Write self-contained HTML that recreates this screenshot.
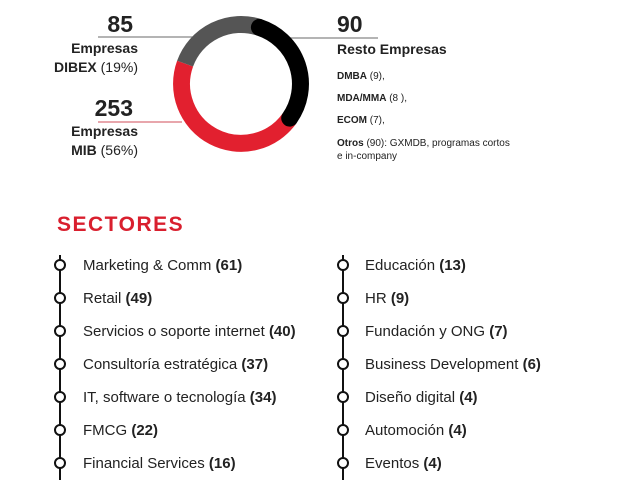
<!DOCTYPE html>
<html><head><meta charset="utf-8"><style>
body{margin:0;background:#fff;}
svg{display:block;font-family:"Liberation Sans",sans-serif;}
</style></head><body>
<svg width="640" height="480" viewBox="0 0 640 480" xmlns="http://www.w3.org/2000/svg">
<rect width="640" height="480" fill="#fff"/>
<line x1="98" y1="37" x2="195" y2="37" stroke="#888" stroke-width="1.2"/>
<line x1="98" y1="122" x2="182" y2="122" stroke="#d9707a" stroke-width="1.2"/>
<line x1="288" y1="38" x2="378" y2="38" stroke="#888" stroke-width="1.2"/>
<g fill="none" stroke-width="17">
<path d="M289.7,118.1 A59.5,59.5 0 0 1 185.1,63.6" stroke="#e2202f"/>
<path d="M185.1,63.6 A59.5,59.5 0 0 1 259.4,27.4" stroke="#555"/>
<path d="M259.4,27.4 A59.5,59.5 0 0 1 289.7,118.1" stroke="#000" stroke-linecap="round"/>
</g>
<g text-anchor="end" fill="#222" font-weight="bold">
<text x="133" y="32" font-size="23">85</text>
<text x="138" y="53" font-size="14">Empresas</text>
<text x="138" y="72" font-size="14">DIBEX <tspan font-weight="normal">(19%)</tspan></text>
<text x="133" y="116" font-size="23">253</text>
<text x="138" y="136" font-size="14">Empresas</text>
<text x="138" y="155" font-size="14">MIB <tspan font-weight="normal">(56%)</tspan></text>
</g>
<g fill="#222">
<text x="337" y="32" font-size="23" font-weight="bold">90</text>
<text x="337" y="54" font-size="14" font-weight="bold">Resto Empresas</text>
<text x="337" y="79" font-size="10"><tspan font-weight="bold">DMBA</tspan> (9),</text>
<text x="337" y="101" font-size="10"><tspan font-weight="bold">MDA/MMA</tspan> (8 ),</text>
<text x="337" y="123" font-size="10"><tspan font-weight="bold">ECOM</tspan> (7),</text>
<text x="337" y="146" font-size="10"><tspan font-weight="bold">Otros</tspan> (90): GXMDB, programas cortos</text>
<text x="337" y="159" font-size="10">e in-company</text>
</g>
<text x="57" y="231" font-size="21" font-weight="bold" fill="#d91f2e" letter-spacing="1.5">SECTORES</text>
<line x1="60" y1="255" x2="60" y2="480" stroke="#111" stroke-width="2"/>
<line x1="343" y1="255" x2="343" y2="480" stroke="#111" stroke-width="2"/>
<g fill="#fff" stroke="#111" stroke-width="2">
<circle cx="60" cy="265" r="5"/><circle cx="60" cy="298" r="5"/><circle cx="60" cy="331" r="5"/><circle cx="60" cy="364" r="5"/><circle cx="60" cy="397" r="5"/><circle cx="60" cy="430" r="5"/><circle cx="60" cy="463" r="5"/>
<circle cx="343" cy="265" r="5"/><circle cx="343" cy="298" r="5"/><circle cx="343" cy="331" r="5"/><circle cx="343" cy="364" r="5"/><circle cx="343" cy="397" r="5"/><circle cx="343" cy="430" r="5"/><circle cx="343" cy="463" r="5"/>
</g>
<g font-size="15" fill="#222">
<text x="83" y="270">Marketing &amp; Comm <tspan font-weight="bold">(61)</tspan></text>
<text x="83" y="303">Retail <tspan font-weight="bold">(49)</tspan></text>
<text x="83" y="336">Servicios o soporte internet <tspan font-weight="bold">(40)</tspan></text>
<text x="83" y="369">Consultoría estratégica <tspan font-weight="bold">(37)</tspan></text>
<text x="83" y="402">IT, software o tecnología <tspan font-weight="bold">(34)</tspan></text>
<text x="83" y="435">FMCG <tspan font-weight="bold">(22)</tspan></text>
<text x="83" y="468">Financial Services <tspan font-weight="bold">(16)</tspan></text>
<text x="365" y="270">Educación <tspan font-weight="bold">(13)</tspan></text>
<text x="365" y="303">HR <tspan font-weight="bold">(9)</tspan></text>
<text x="365" y="336">Fundación y ONG <tspan font-weight="bold">(7)</tspan></text>
<text x="365" y="369">Business Development <tspan font-weight="bold">(6)</tspan></text>
<text x="365" y="402">Diseño digital <tspan font-weight="bold">(4)</tspan></text>
<text x="365" y="435">Automoción <tspan font-weight="bold">(4)</tspan></text>
<text x="365" y="468">Eventos <tspan font-weight="bold">(4)</tspan></text>
</g>
</svg>
</body></html>
